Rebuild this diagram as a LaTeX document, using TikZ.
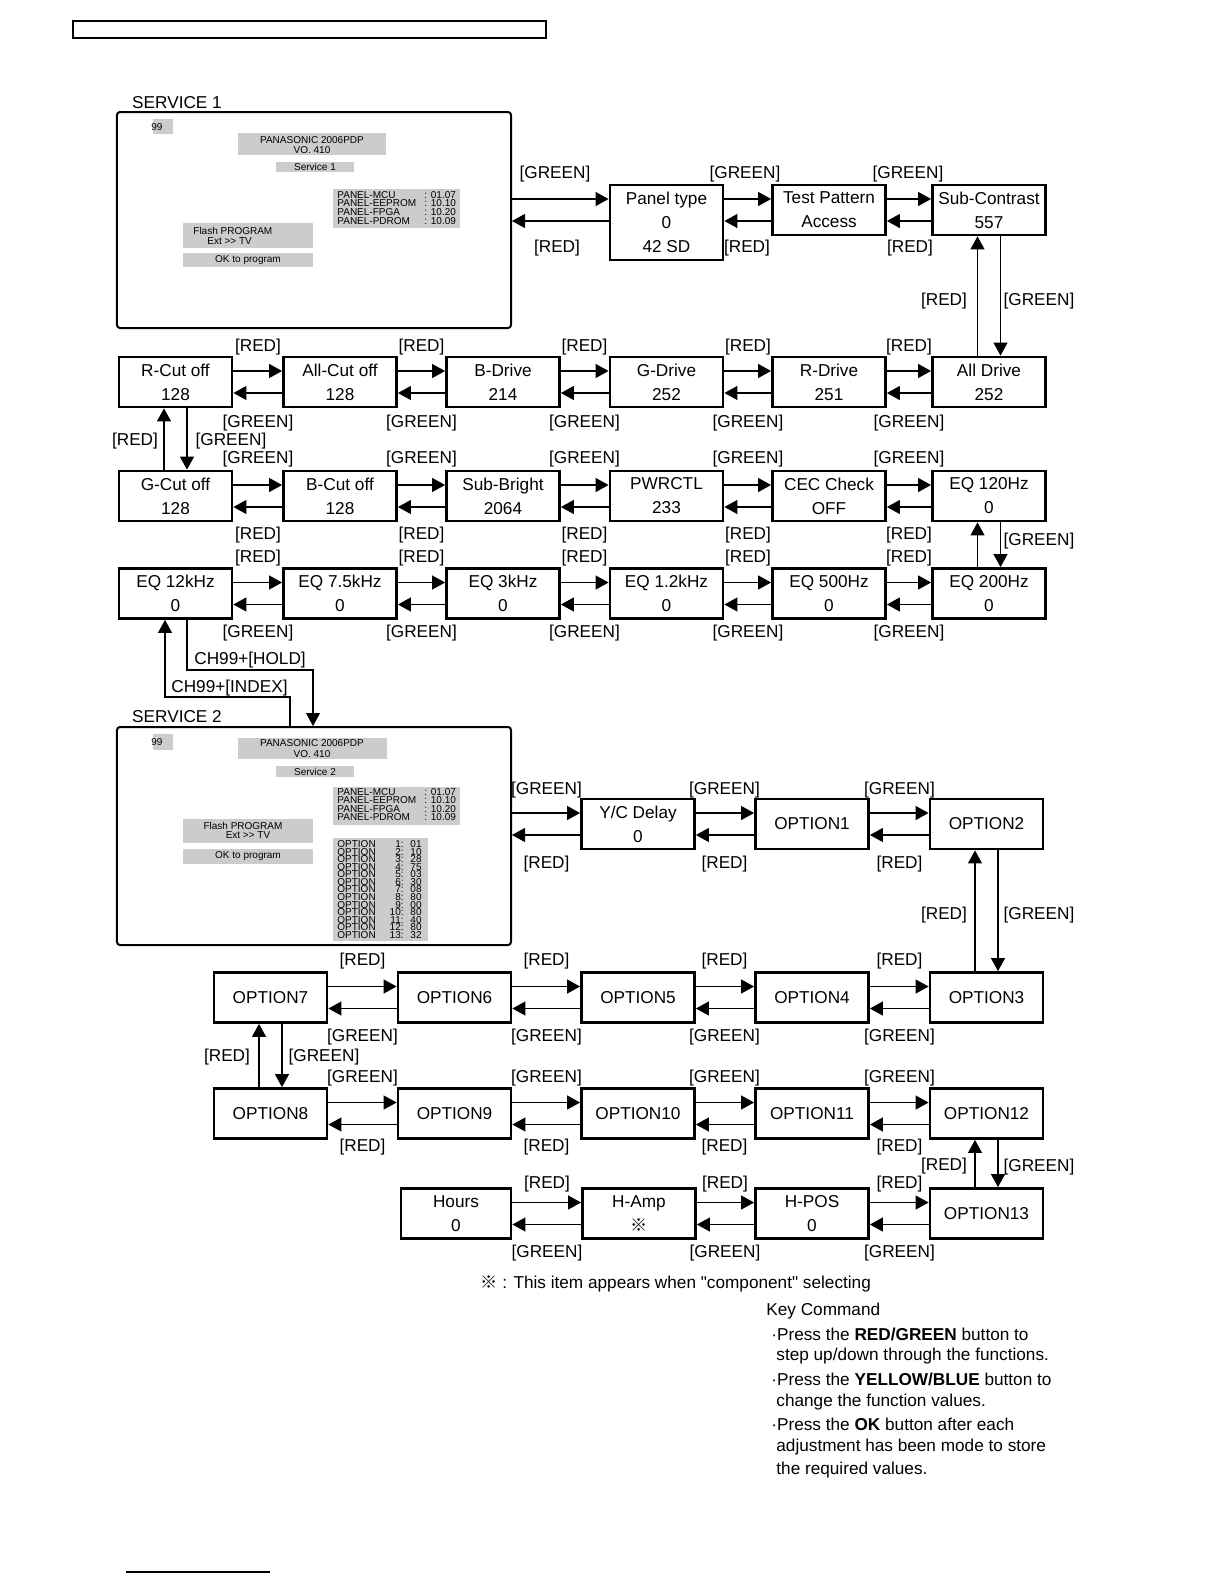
\documentclass[tikz,border=0pt]{standalone}
\usepackage{fontspec}
\setmainfont{Liberation Sans}[Ligatures=TeXOff]
\newfontfamily\cjkfont{Noto Sans CJK JP}
\usetikzlibrary{arrows.meta,calc}
\newcommand\hpair[2]{%
  \draw[conn] ([yshift=5.5bp]#1.east) -- ([yshift=5.5bp]#2.west);
  \draw[conn] ([yshift=-5.5bp]#2.west) -- ([yshift=-5.5bp]#1.east);}
\newcommand\vpair[2]{%
  \draw[conn] ([xshift=-5.75bp]#2.north) -- ([xshift=-5.75bp]#1.south);
  \draw[conn] ([xshift=5.75bp]#1.south) -- ([xshift=5.75bp]#2.north);}
\begin{document}
\begin{tikzpicture}[x=0.5bp,y=-0.5bp,
  every node/.style={font=\fontsize{8.6bp}{12bp}\selectfont, inner sep=0pt},
  bx/.style={draw,line width=1.4bp,minimum width=56.5bp,minimum height=25bp,align=center},
  conn/.style={line width=0.55bp,-{Triangle[length=6.5bp,width=7bp]}},
  scr/.style={draw,line width=1bp,rounded corners=1.5bp,minimum width=197bp},
  gb/.style={fill=black!20},
  lb/.style={yshift=-1.5bp},
  sm/.style={font=\fontsize{5bp}{5bp}\selectfont},
  opt/.style={font=\fontsize{5bp}{5bp}\selectfont}]
\useasboundingbox (0,0) rectangle (1224,1584);
\fill[white] (0,0) rectangle (1224,1584);
% header bar
\draw[line width=1.2bp] (73,21) rectangle (546,38);

% ================= SERVICE 1 screen =================
\node[lb] (t1) at (177,100) {SERVICE 1};
\node[scr,minimum height=108bp] (s1) at (314,220) {};
\fill[gb] (153,119) rectangle (173,134);
\node[sm] (s1a) at (157,127) {99};
\fill[gb] (238,133) rectangle (386,155);
\node[sm] (s1b) at (312,140) {PANASONIC 2006PDP};
\node[sm] (s1c) at (312,150) {VO. 410};
\fill[gb] (276,162) rectangle (354,172);
\node[sm] (s1d) at (315,167) {Service 1};
\fill[gb] (333,189) rectangle (460,228);
\node[sm,anchor=west] (s1e) at (337,195) {PANEL-MCU};
\node[sm,anchor=west] (s1f) at (337,203) {PANEL-EEPROM};
\node[sm,anchor=west] (s1g) at (337,212) {PANEL-FPGA};
\node[sm,anchor=west] (s1h) at (337,221) {PANEL-PDROM};
\node[sm,anchor=west] (s1i) at (424,195) {: 01.07};
\node[sm,anchor=west] (s1j) at (424,203) {: 10.10};
\node[sm,anchor=west] (s1k) at (424,212) {: 10.20};
\node[sm,anchor=west] (s1l) at (424,221) {: 10.09};
\fill[gb] (183,223) rectangle (313,248);
\node[sm,anchor=west] (s1m) at (193,231) {Flash PROGRAM};
\node[sm,anchor=west] (s1n) at (207,241) {Ext >> TV};
\fill[gb] (183,253) rectangle (313,267);
\node[sm] (s1o) at (248,260) {OK to program};

% ================= Row 1 =================
\node[bx,minimum height=37.5bp] (pt) at (666.5,222.5) {Panel type\\0\\42 SD};
\node[bx] (tp) at (829,210) {Test Pattern\\Access};
\node[bx] (sc) at (989,210) {Sub-Contrast\\557};
\coordinate (a1) at ([yshift=5.5bp]tp.west);
\coordinate (a2) at ([yshift=-5.5bp]tp.west);
\draw[conn] (s1.east |- a1) -- (pt.west |- a1);
\draw[conn] (pt.west |- a2) -- (s1.east |- a2);
\draw[conn] (pt.east |- a1) -- (a1);
\draw[conn] (a2) -- (pt.east |- a2);
\hpair{tp}{sc}
\node[lb] (l101) at (555,171) {[GREEN]};
\node[lb] (l102) at (745,171) {[GREEN]};
\node[lb] (l103) at (908,171) {[GREEN]};
\node[lb] (l104) at (557,245) {[RED]};
\node[lb] (l105) at (747,245) {[RED]};
\node[lb] (l106) at (910,245) {[RED]};

% ================= Row 2 =================
\node[bx] (rc) at (175.5,382) {R-Cut off\\128};
\node[bx] (ac) at (340,382) {All-Cut off\\128};
\node[bx] (bd) at (503,382) {B-Drive\\214};
\node[bx] (gd) at (666.5,382) {G-Drive\\252};
\node[bx] (rd) at (829,382) {R-Drive\\251};
\node[bx] (ad) at (989,382) {All Drive\\252};
\hpair{rc}{ac}\hpair{ac}{bd}\hpair{bd}{gd}\hpair{gd}{rd}\hpair{rd}{ad}
\vpair{sc}{ad}
\node[lb] (l201) at (944,298) {[RED]};
\node[lb] (l202) at (1039,298) {[GREEN]};
\foreach \x/\n in {258/a,421.5/b,584.5/c,748/d,909/e}{
  \node[lb] (l2t\n) at (\x,344) {[RED]};
  \node[lb] (l2b\n) at (\x,420) {[GREEN]};
}

% ================= Row 3 =================
\node[bx] (gc) at (175.5,496) {G-Cut off\\128};
\node[bx] (bc) at (340,496) {B-Cut off\\128};
\node[bx] (sb) at (503,496) {Sub-Bright\\2064};
\node[bx] (pw) at (666.5,496) {PWRCTL\\233};
\node[bx] (cec) at (829,496) {CEC Check\\OFF};
\node[bx] (e120) at (989,496) {EQ 120Hz\\0};
\hpair{gc}{bc}\hpair{bc}{sb}\hpair{sb}{pw}\hpair{pw}{cec}\hpair{cec}{e120}
\vpair{rc}{gc}
\node[lb] (l301) at (135,438) {[RED]};
\node[lb] (l302) at (231,438) {[GREEN]};
\foreach \x/\n in {258/a,421.5/b,584.5/c,748/d,909/e}{
  \node[lb] (l3t\n) at (\x,456) {[GREEN]};
  \node[lb] (l3b\n) at (\x,532) {[RED]};
}

% ================= Row 4 =================
\node[bx] (e12) at (175.5,593.5) {EQ 12kHz\\0};
\node[bx] (e75) at (340,593.5) {EQ 7.5kHz\\0};
\node[bx] (e3) at (503,593.5) {EQ 3kHz\\0};
\node[bx] (e1k) at (666.5,593.5) {EQ 1.2kHz\\0};
\node[bx] (e500) at (829,593.5) {EQ 500Hz\\0};
\node[bx] (e200) at (989,593.5) {EQ 200Hz\\0};
\hpair{e12}{e75}\hpair{e75}{e3}\hpair{e3}{e1k}\hpair{e1k}{e500}\hpair{e500}{e200}
\vpair{e120}{e200}
\node[lb] (l401) at (1039,538) {[GREEN]};
\foreach \x/\n in {258/a,421.5/b,584.5/c,748/d,909/e}{
  \node[lb] (l4t\n) at (\x,555) {[RED]};
  \node[lb] (l4b\n) at (\x,630) {[GREEN]};
}

% ================= SERVICE 2 screen =================
\node[lb] (t2) at (177,714) {SERVICE 2};
\node[scr,minimum height=109bp] (s2) at (314,836) {};
\fill[gb] (153,734) rectangle (173,750);
\node[sm] (s2a) at (157,742) {99};
\fill[gb] (238,738) rectangle (387,759);
\node[sm] (s2b) at (312,743) {PANASONIC 2006PDP};
\node[sm] (s2c) at (312,754) {VO. 410};
\fill[gb] (276,766) rectangle (354,777);
\node[sm] (s2d) at (315,772) {Service 2};
\fill[gb] (333,787) rectangle (460,825);
\node[sm,anchor=west] (s2e) at (337,792) {PANEL-MCU};
\node[sm,anchor=west] (s2f) at (337,800) {PANEL-EEPROM};
\node[sm,anchor=west] (s2g) at (337,809) {PANEL-FPGA};
\node[sm,anchor=west] (s2h) at (337,817) {PANEL-PDROM};
\node[sm,anchor=west] (s2i) at (424,792) {: 01.07};
\node[sm,anchor=west] (s2j) at (424,800) {: 10.10};
\node[sm,anchor=west] (s2k) at (424,809) {: 10.20};
\node[sm,anchor=west] (s2l) at (424,817) {: 10.09};
\fill[gb] (183,819) rectangle (313,843);
\node[sm] (s2m) at (243,826) {Flash PROGRAM};
\node[sm] (s2n) at (248,835) {Ext >> TV};
\fill[gb] (183,849) rectangle (313,864);
\node[sm] (s2o) at (248,856) {OK to program};
\fill[gb] (333,838) rectangle (428,941);
\foreach \i/\v in {1/01,2/10,3/28,4/75,5/03,6/30,7/08,8/80,9/00,10/80,11/40,12/80,13/32}{
  \node[opt,anchor=west] (ow\i) at (337,{844+7.58*(\i-1)}) {OPTION};
  \node[opt,anchor=east] (on\i) at (404,{844+7.58*(\i-1)}) {\i:};
  \node[opt,anchor=east] (ov\i) at (422,{844+7.58*(\i-1)}) {\v};
}

% CH99 connectors
\coordinate (h1) at (187,670);
\coordinate (h2) at (313,670);
\coordinate (i1) at (290,697);
\coordinate (i2) at (165,697);
\draw[conn] (h1 |- e12.south) -- (h1) -- (h2) -- (h2 |- s2.north);
\draw[conn] (i1 |- s2.north) -- (i1) -- (i2) -- (i2 |- e12.south);
\node[lb,anchor=west] (ch1) at (194,657) {CH99+[HOLD]};
\node[lb,anchor=west] (ch2) at (171,685) {CH99+[INDEX]};

% ================= Row 5 =================
\node[bx] (yc) at (638,824) {Y/C Delay\\0};
\node[bx] (o1) at (812,824) {OPTION1};
\node[bx] (o2) at (986.5,824) {OPTION2};
\coordinate (b1) at ([yshift=5.5bp]yc.west);
\coordinate (b2) at ([yshift=-5.5bp]yc.west);
\draw[conn] (s2.east |- b1) -- (b1);
\draw[conn] (b2) -- (s2.east |- b2);
\hpair{yc}{o1}\hpair{o1}{o2}
\foreach \x/\n in {546.5/a,724.5/b,899.5/c}{
  \node[lb] (l5t\n) at (\x,787) {[GREEN]};
  \node[lb] (l5b\n) at (\x,861) {[RED]};
}

% ================= Row 6 =================
\node[bx] (o7) at (270.5,997.5) {OPTION7};
\node[bx] (o6) at (454.5,997.5) {OPTION6};
\node[bx] (o5) at (638,997.5) {OPTION5};
\node[bx] (o4) at (812,997.5) {OPTION4};
\node[bx] (o3) at (986.5,997.5) {OPTION3};
\hpair{o7}{o6}\hpair{o6}{o5}\hpair{o5}{o4}\hpair{o4}{o3}
\vpair{o2}{o3}
\node[lb] (l601) at (944,912) {[RED]};
\node[lb] (l602) at (1039,912) {[GREEN]};
\foreach \x/\n in {362.5/a,546.5/b,724.5/c,899.5/d}{
  \node[lb] (l6t\n) at (\x,958) {[RED]};
  \node[lb] (l6b\n) at (\x,1034) {[GREEN]};
}

% ================= Row 7 =================
\node[bx] (o8) at (270.5,1113.5) {OPTION8};
\node[bx] (o9) at (454.5,1113.5) {OPTION9};
\node[bx] (o10) at (638,1113.5) {OPTION10};
\node[bx] (o11) at (812,1113.5) {OPTION11};
\node[bx] (o12) at (986.5,1113.5) {OPTION12};
\hpair{o8}{o9}\hpair{o9}{o10}\hpair{o10}{o11}\hpair{o11}{o12}
\vpair{o7}{o8}
\node[lb] (l701) at (227,1054) {[RED]};
\node[lb] (l702) at (324,1054) {[GREEN]};
\foreach \x/\n in {362.5/a,546.5/b,724.5/c,899.5/d}{
  \node[lb] (l7t\n) at (\x,1075) {[GREEN]};
  \node[lb] (l7b\n) at (\x,1144) {[RED]};
}

% ================= Row 8 =================
\node[bx,minimum width=55bp] (hr) at (456,1213.5) {Hours\\0};
\node[bx] (ha) at (639,1213.5) {H-Amp\\{\cjkfont ※}};
\node[bx] (hp) at (812,1213.5) {H-POS\\0};
\node[bx] (o13) at (986.5,1213.5) {OPTION13};
\hpair{hr}{ha}\hpair{ha}{hp}\hpair{hp}{o13}
\vpair{o12}{o13}
\node[lb] (l801) at (944,1163) {[RED]};
\node[lb] (l802) at (1039,1164) {[GREEN]};
\foreach \x/\n in {547/a,725/b,899.5/c}{
  \node[lb] (l8t\n) at (\x,1181) {[RED]};
  \node[lb] (l8b\n) at (\x,1250) {[GREEN]};
}

% ================= Notes =================
\node[lb,anchor=west] (fn) at (480,1281) {{\cjkfont ※} : This item appears when "component" selecting};
\node[lb,anchor=west] (k0) at (766,1308) {Key Command};
\node[lb,anchor=west] (k1) at (771,1331) {·Press the \textbf{RED/GREEN} button to};
\node[lb,anchor=west] (k2) at (776,1353) {step up/down through the functions.};
\node[lb,anchor=west] (k3) at (771,1376) {·Press the \textbf{YELLOW/BLUE} button to};
\node[lb,anchor=west] (k4) at (776,1399) {change the function values.};
\node[lb,anchor=west] (k5) at (771,1421) {·Press the \textbf{OK} button after each};
\node[lb,anchor=west] (k6) at (776,1444) {adjustment has been mode to store};
\node[lb,anchor=west] (k7) at (776,1467) {the required values.};

\draw[line width=0.6bp] (126,1572) -- (270,1572);
\end{tikzpicture}
\end{document}
